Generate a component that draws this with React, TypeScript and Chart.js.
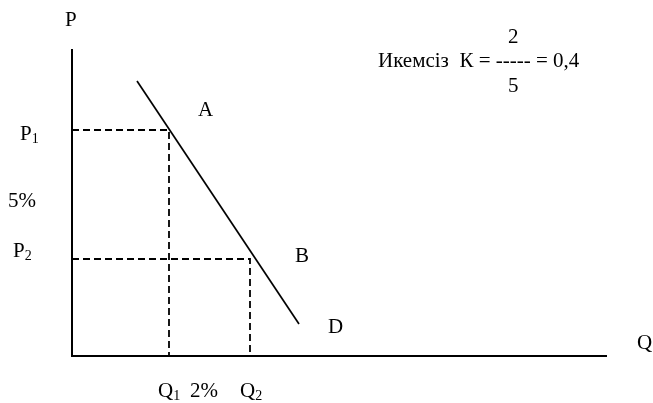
import React, { useEffect, useRef } from "react";
import { Chart, registerables } from "chart.js";

Chart.register(...registerables);

// Units: abstract quantity (Q) and price (P) units, origin at the axes corner
const axisQMax = 535;
const axisPMax = 307;
const demandQ = [65, 227];
const demandP = [275, 32];
const priceLevels = [226, 97]; // P1, P2
const quantityLevels = [97, 178]; // Q1, Q2
const pointNames = ["A", "B"];
const curveName = "D";
const axisNames = ["P", "Q"];
const priceChange = "5%";
const quantityChange = "2%";
const formulaLabel = "Икемсіз  К = ----- = 0,4";
const formulaNum = "2";
const formulaDen = "5";

const FONT = '"Liberation Serif", "Times New Roman", serif';

const labelPlugin = {
  id: "labels",
  afterDraw(chart: any) {
    const ctx = chart.ctx;
    const xs = chart.scales.x;
    const ys = chart.scales.y;
    const px = (v: number) => xs.getPixelForValue(v);
    const py = (v: number) => ys.getPixelForValue(v);
    ctx.save();
    ctx.fillStyle = "#000";
    ctx.textBaseline = "alphabetic";
    ctx.textAlign = "left";
    const main = `21px ${FONT}`;
    const small = `14px ${FONT}`;
    const text = (t: string, x: number, y: number, f: string = main) => {
      ctx.font = f;
      ctx.fillText(t, px(x), py(y));
    };
    const sub = (t: string, s: string, x: number, y: number) => {
      ctx.font = main;
      ctx.fillText(t, px(x), py(y));
      const w = ctx.measureText(t).width;
      ctx.font = small;
      ctx.fillText(s, px(x) + w, py(y) + 3);
    };
    text(axisNames[0], -7, 330);
    text(axisNames[1], 565, 7);
    text(pointNames[0], 126, 240);
    text(pointNames[1], 223, 94);
    text(curveName, 256, 23);
    sub("P", "1", -52, 216);
    text(priceChange, -64, 149);
    sub("P", "2", -59, 99);
    sub("Q", "1", quantityLevels[0] - 11, -41);
    text(quantityChange, 118, -41);
    sub("Q", "2", quantityLevels[1] - 10, -41);
    text(formulaLabel, 306, 289, `21px ${FONT}`);
    text(formulaNum, 436, 313);
    text(formulaDen, 436, 264);
    ctx.restore();
  },
};

export default function App() {
  const ref = useRef<HTMLCanvasElement | null>(null);
  useEffect(() => {
    if (!ref.current) return;
    const dash = [7, 4];
    const chart = new Chart(ref.current, {
      type: "scatter",
      data: {
        datasets: [
          {
            data: [
              { x: 0, y: axisPMax },
              { x: 0, y: 0 },
              { x: axisQMax, y: 0 },
            ],
            showLine: true,
            borderColor: "#000",
            borderWidth: 2,
            pointRadius: 0,
          },
          {
            data: [
              { x: demandQ[0], y: demandP[0] },
              { x: demandQ[1], y: demandP[1] },
            ],
            showLine: true,
            borderColor: "#000",
            borderWidth: 1.7,
            pointRadius: 0,
          },
          {
            data: [
              { x: 0, y: priceLevels[0] },
              { x: quantityLevels[0], y: priceLevels[0] },
              { x: quantityLevels[0], y: 0 },
            ],
            showLine: true,
            borderColor: "#000",
            borderWidth: 1.8,
            borderDash: dash,
            pointRadius: 0,
          },
          {
            data: [
              { x: 0, y: priceLevels[1] },
              { x: quantityLevels[1], y: priceLevels[1] },
              { x: quantityLevels[1], y: 0 },
            ],
            showLine: true,
            borderColor: "#000",
            borderWidth: 1.8,
            borderDash: dash,
            pointRadius: 0,
          },
        ],
      },
      options: {
        responsive: false,
        animation: false,
        events: [],
        layout: { padding: 0 },
        plugins: { legend: { display: false }, tooltip: { enabled: false } },
        scales: {
          x: { type: "linear", display: false, min: -72, max: 581 },
          y: { type: "linear", display: false, min: -47, max: 356 },
        },
      },
      plugins: [labelPlugin],
    });
    return () => chart.destroy();
  }, []);
  return (
    <div style={{ position: "absolute", left: 0, top: 0, width: 653, height: 403, background: "#fff" }}>
      <canvas ref={ref} width={653} height={403} style={{ display: "block" }} />
    </div>
  );
}
